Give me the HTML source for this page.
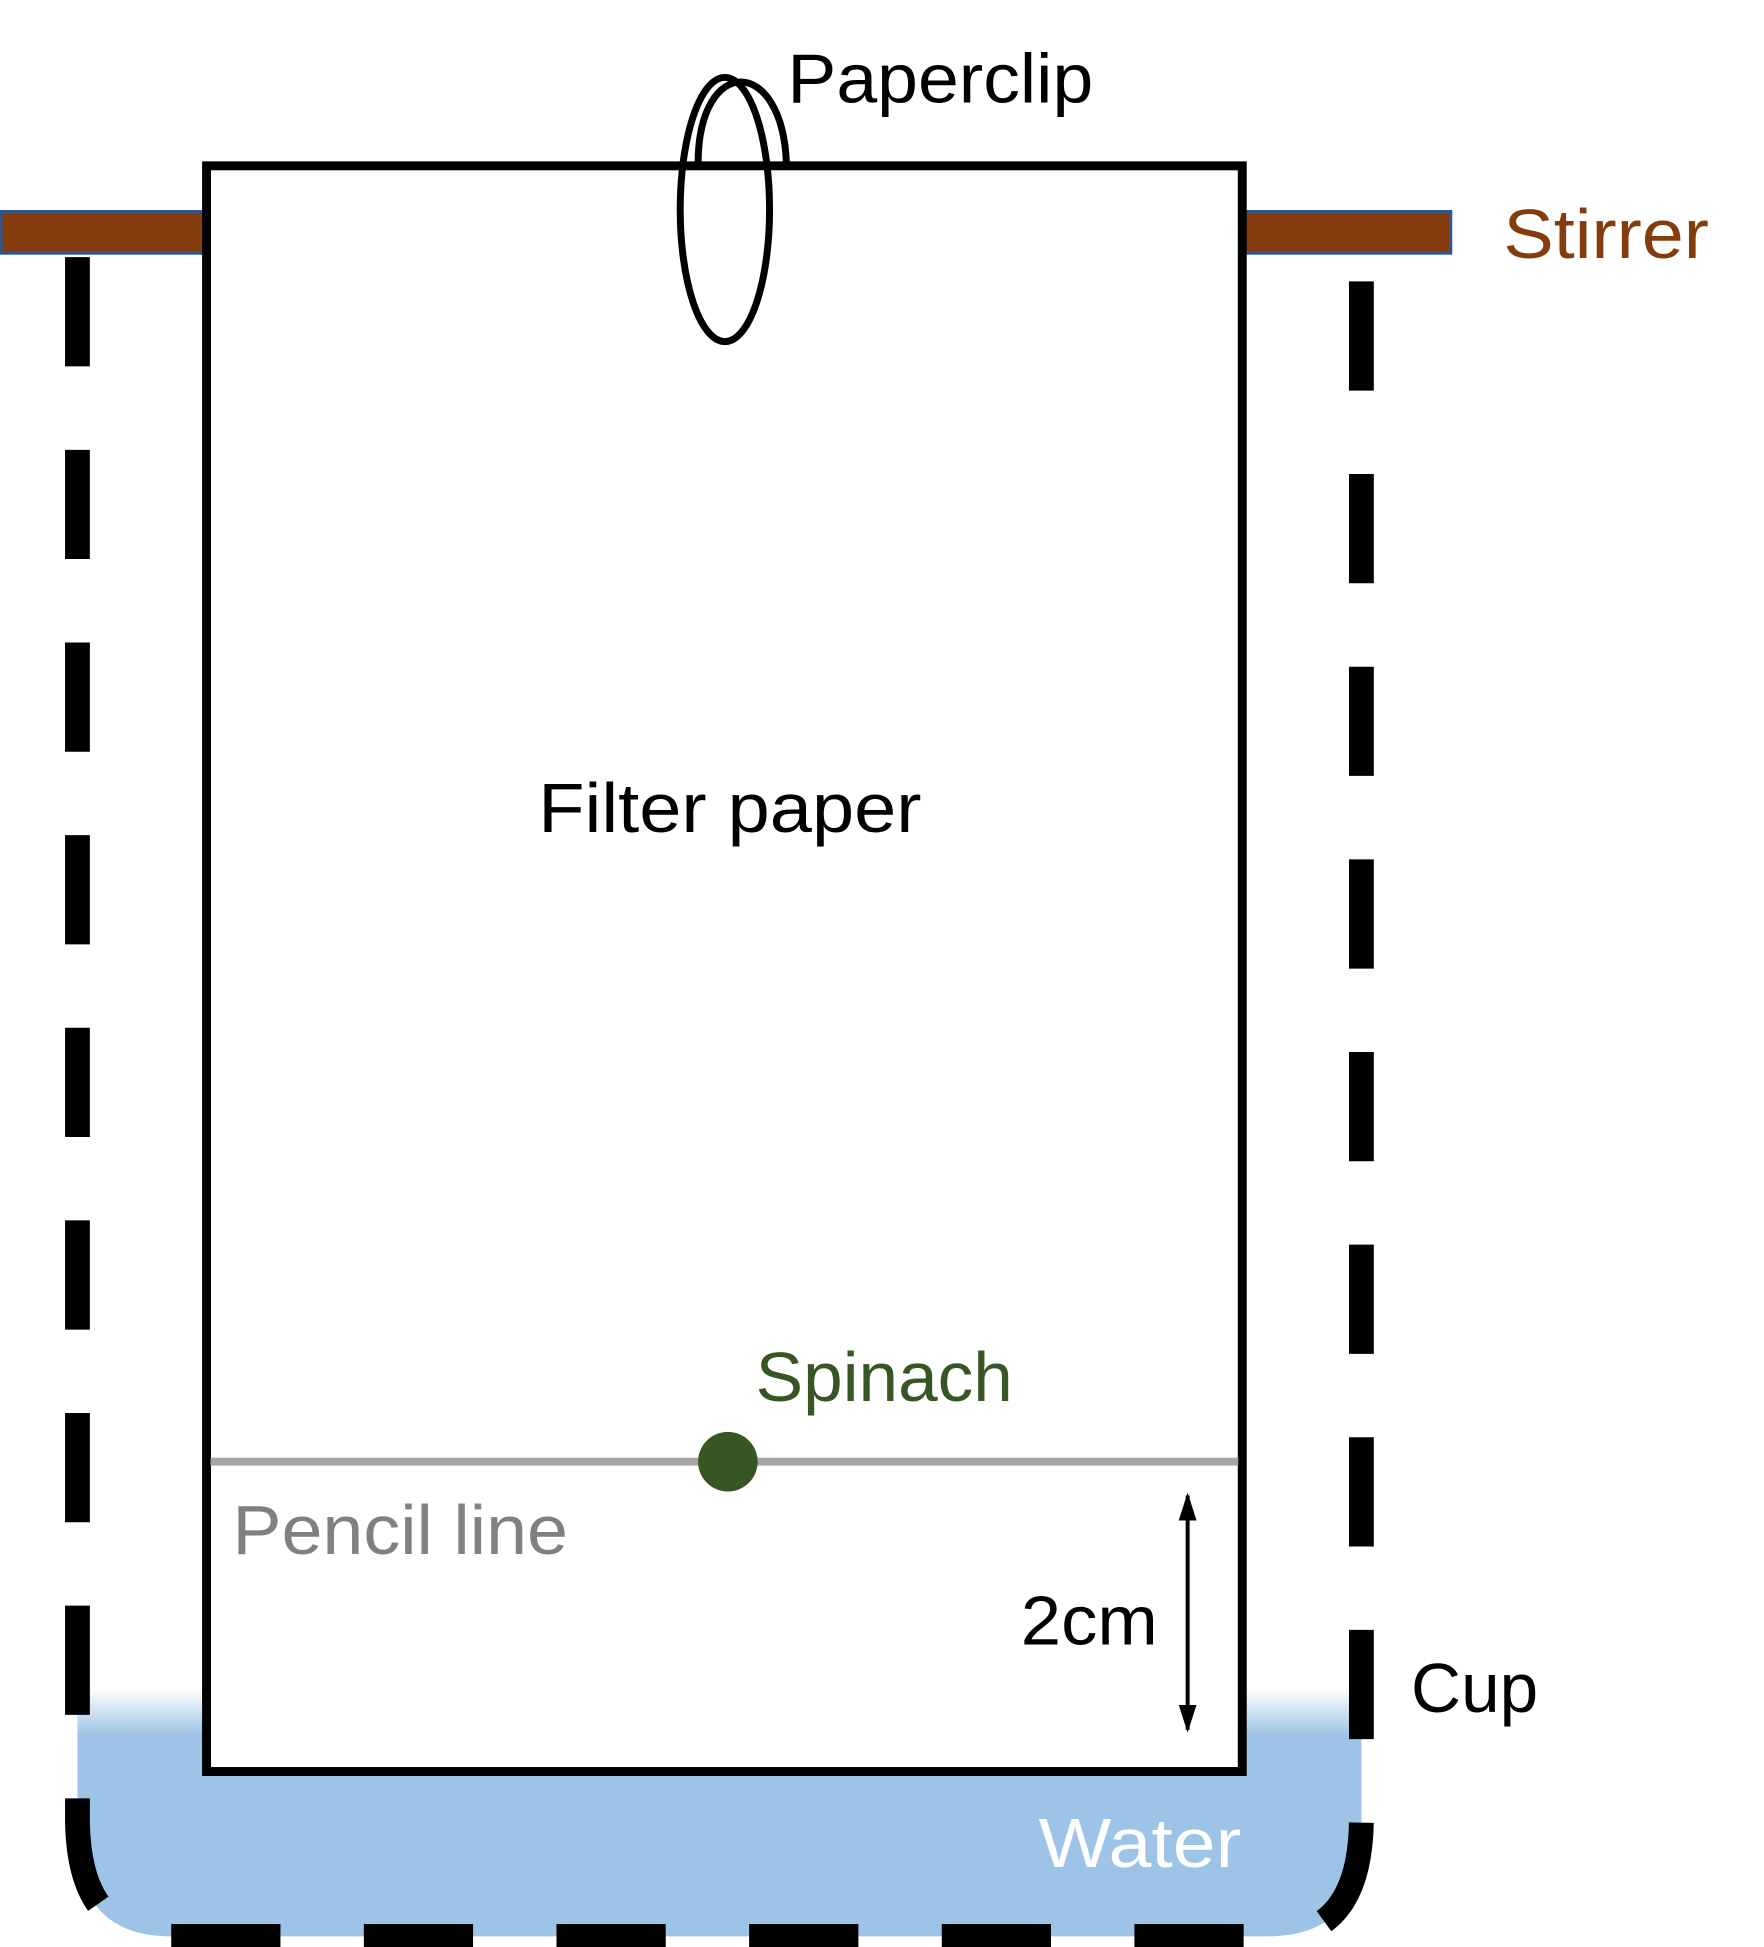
<!DOCTYPE html>
<html><head><meta charset="utf-8"><style>
html,body{margin:0;padding:0;background:#fff;}
svg{display:block;}
text{font-family:"Liberation Sans",sans-serif;font-size:70px;}
</style></head><body>
<svg width="1764" height="1947" viewBox="0 0 1764 1947" xmlns="http://www.w3.org/2000/svg">
<defs>
<linearGradient id="wg" x1="0" y1="0" x2="0" y2="1">
<stop offset="0" stop-color="#9DC3E6" stop-opacity="0"/>
<stop offset="1" stop-color="#9DC3E6"/>
</linearGradient>
<marker id="ah" viewBox="0 0 10 10" refX="9" refY="5" markerWidth="7" markerHeight="4.5" orient="auto-start-reverse" markerUnits="strokeWidth" preserveAspectRatio="none">
<path d="M0 0 L10 5 L0 10 z" fill="#000"/>
</marker>
</defs>
<g transform="scale(0.993)">
<rect x="78" y="1700" width="1293" height="48" fill="url(#wg)"/>
<path d="M78 1746 H1371 V1850 Q1371 1950 1276 1950 H173 Q78 1950 78 1850 Z" fill="#9DC3E6"/>
<path d="M78 259 V1830 Q78 1950 170 1950 H1280 Q1371 1950 1371 1830 V276" fill="none" stroke="#000" stroke-width="25" stroke-dasharray="110 84"/>
<rect x="1" y="213" width="203" height="42" fill="#843C0C" stroke="#2F5597" stroke-width="3"/>
<rect x="1252" y="213" width="209" height="42" fill="#843C0C" stroke="#2F5597" stroke-width="3"/>
<rect x="208" y="167" width="1043" height="1617" fill="#fff" stroke="#000" stroke-width="9"/>
<path d="M703 165 C703 55 788 55 792 165" fill="none" stroke="#000" stroke-width="7"/>
<ellipse cx="730" cy="211" rx="45" ry="133" fill="none" stroke="#000" stroke-width="7"/>
<line x1="212" y1="1472" x2="1247" y2="1472" stroke="#A6A6A6" stroke-width="8"/>
<circle cx="733" cy="1472" r="30" fill="#375623"/>
<line x1="1196" y1="1506" x2="1196" y2="1742" stroke="#000" stroke-width="4" marker-start="url(#ah)" marker-end="url(#ah)"/>
<text x="793" y="103" textLength="308" lengthAdjust="spacingAndGlyphs">Paperclip</text>
<text x="1514" y="260" fill="#843C0C" textLength="207" lengthAdjust="spacingAndGlyphs">Stirrer</text>
<text x="542" y="838" textLength="386" lengthAdjust="spacingAndGlyphs">Filter paper</text>
<text x="761" y="1411" fill="#375623" textLength="259" lengthAdjust="spacingAndGlyphs">Spinach</text>
<text x="234" y="1565" fill="#808080" textLength="338" lengthAdjust="spacingAndGlyphs">Pencil line</text>
<text x="1028" y="1656" textLength="138" lengthAdjust="spacingAndGlyphs">2cm</text>
<text x="1421" y="1724" textLength="128" lengthAdjust="spacingAndGlyphs">Cup</text>
<text x="1046" y="1880" fill="#fff" textLength="204" lengthAdjust="spacingAndGlyphs">Water</text>
</g>
</svg>
</body></html>
